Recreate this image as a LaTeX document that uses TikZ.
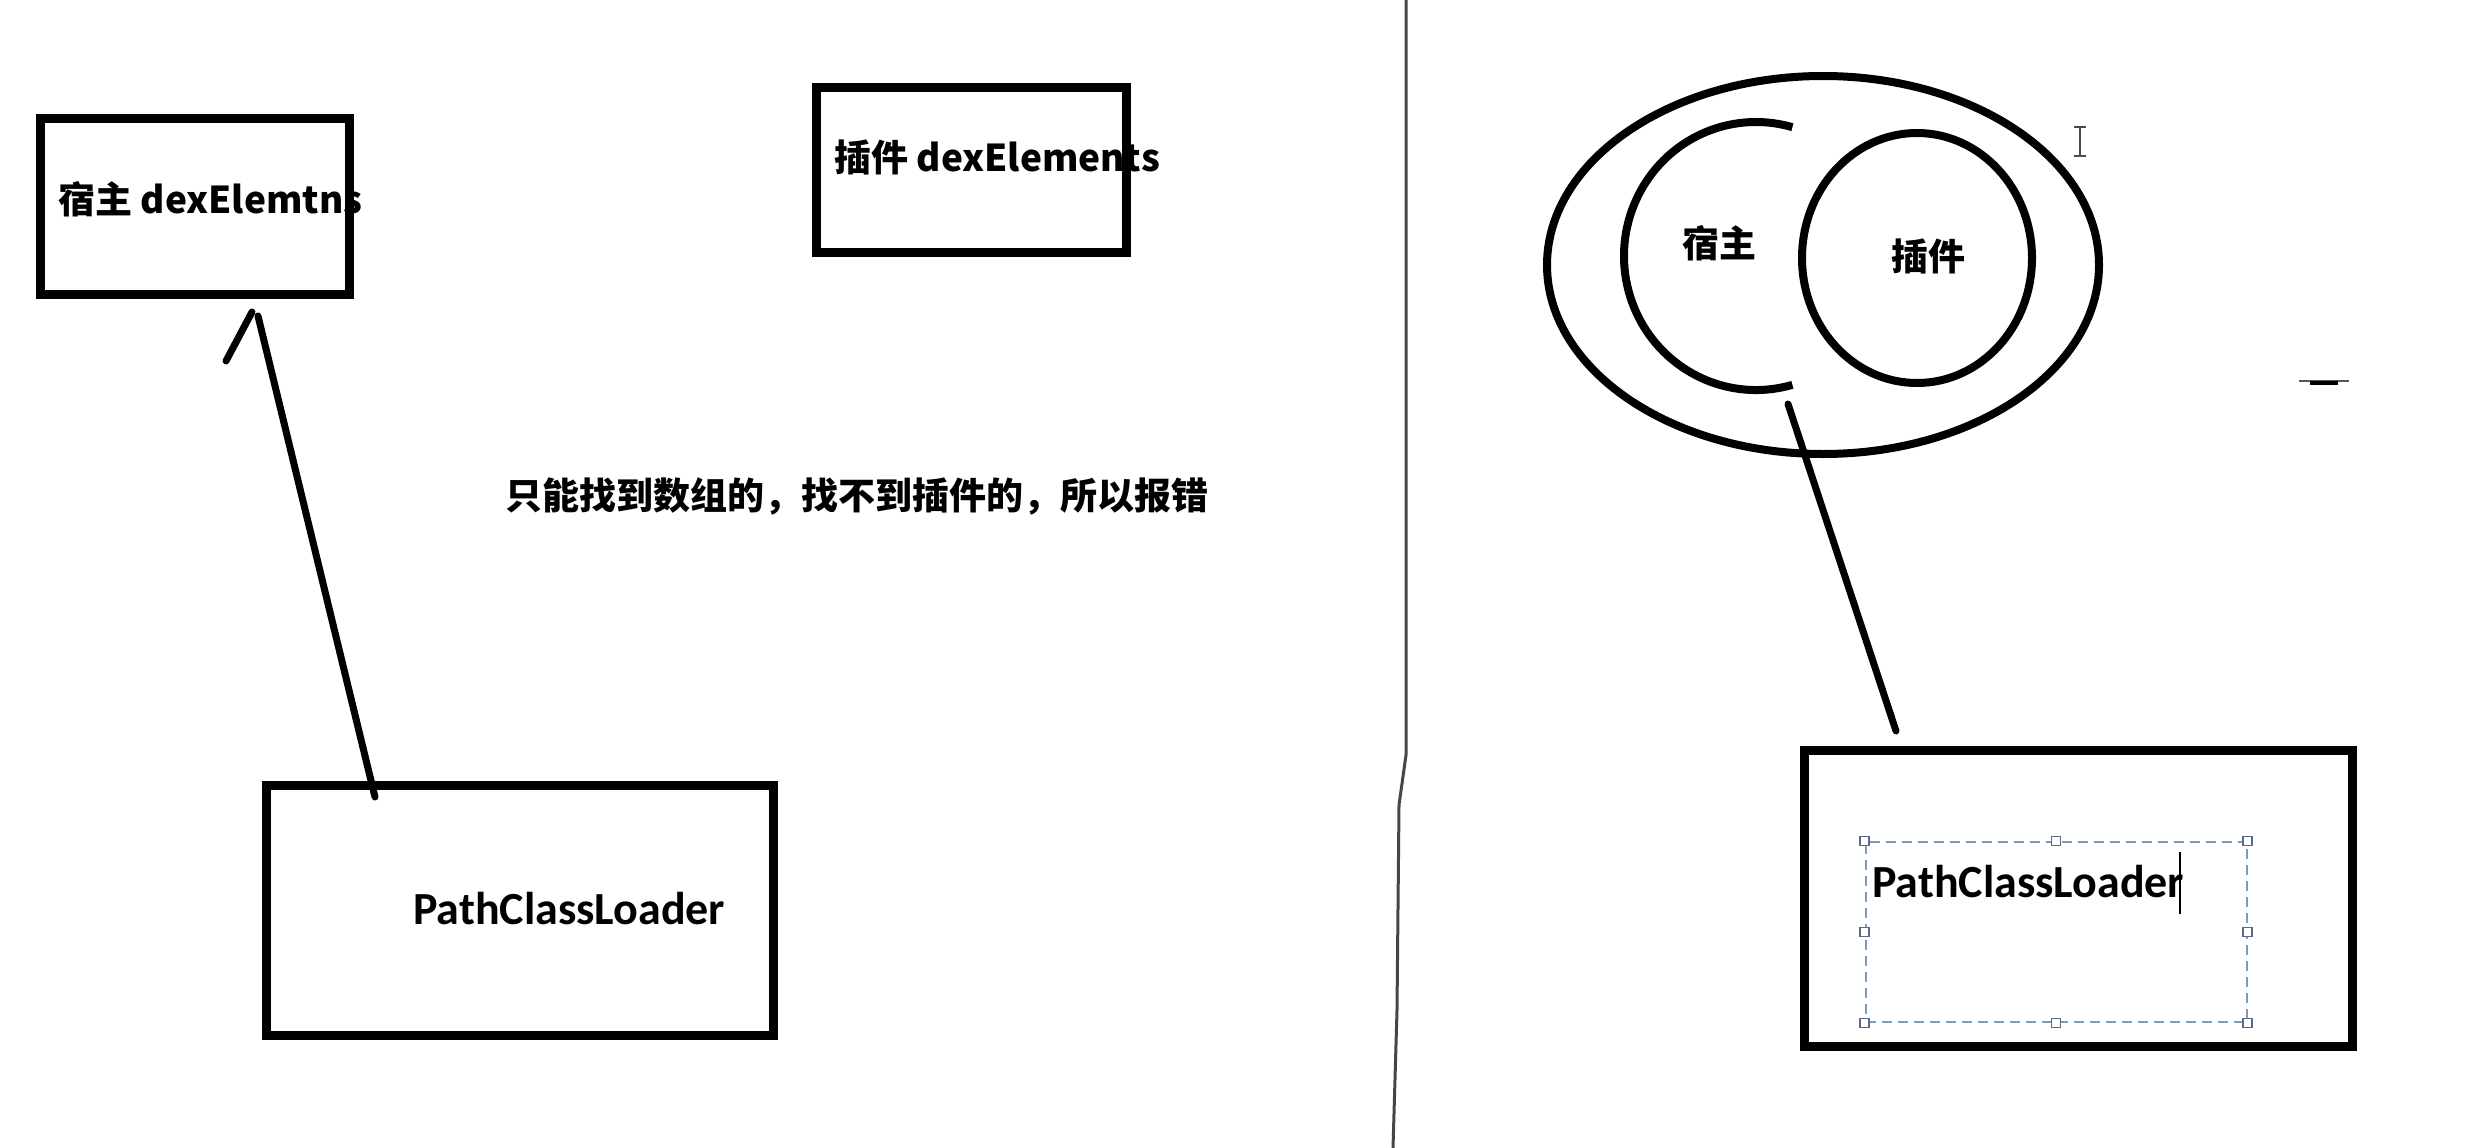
\documentclass[tikz,border=0pt]{standalone}
\usepackage{fontspec}
\setmainfont{Noto Sans CJK SC}
\newfontfamily\calfont{Carlito}
\usetikzlibrary{shapes.geometric}
\definecolor{selblue}{RGB}{125,155,190}
\definecolor{divgray}{RGB}{70,70,70}

\begin{document}
\begin{tikzpicture}[x=1pt,y=-1pt,
  box/.style={draw,line width=9pt,rectangle,inner sep=0pt,outer sep=0pt},
  ring/.style={draw,line width=8pt,ellipse,inner sep=0pt,outer sep=0pt},
  stroke/.style={line width=7pt,line cap=round},
  cjk/.style={font=\bfseries\fontsize{37}{44}\selectfont,inner sep=0pt},
  pcl/.style={font=\calfont\bfseries\fontsize{46}{52}\selectfont,inner sep=0pt},
  handle/.style={draw=selblue!70!black,fill=white,line width=1.5pt,minimum size=9pt,inner sep=0pt}]
\useasboundingbox[fill=white] (0,0) rectangle (2492,1148);

% left half
\node[box,minimum width=309pt,minimum height=176pt] (hostbox) at (195,206) {};
\node[box,minimum width=310pt,minimum height=165pt] (pluginbox) at (971,170) {};
\node[box,minimum width=507pt,minimum height=250pt] (loaderL) at (520,910) {};

\node[cjk,anchor=west] (hostlabel) at (58,199) {宿主 dexElemtns};
\node[cjk,anchor=west] (pluginlabel) at (834,157) {插件 dexElements};
\node[cjk,anchor=west] (note) at (505,496) {只能找到数组的，找不到插件的，所以报错};
\node[pcl,anchor=west] (loaderLlabel) at (413,909) {PathClassLoader};

\coordinate (footL) at (375,797);
\coordinate (tipL) at (258,316);
\coordinate (barbA) at (252,312);
\coordinate (barbB) at (226,361);
\draw[stroke] (footL) -- (tipL);
\draw[stroke] (barbA) -- (barbB);

% divider
\draw[divgray,line width=3pt] (1406,0) -- (1406,755) -- (1399,805) -- (1397,1010) -- (1393,1148);

% right half
\node[ring,minimum width=552pt,minimum height=378pt] (outer) at (1823,265) {};
\node[ring,minimum width=230pt,minimum height=250pt] (pluginring) at (1917,258) {};
\draw[line width=8pt] (1756,256) ++(74:132 and 134) arc[start angle=74,end angle=286,x radius=132,y radius=134];
\node[cjk] (hostname) at (1719,243) {宿主};
\node[cjk] (pluginname) at (1928,256) {插件};

\coordinate (linkTop) at (1788,404);
\coordinate (linkEnd) at (1896,731);
\draw[stroke] (linkTop) -- (linkEnd);

\node[box,minimum width=548pt,minimum height=296pt] (loaderR) at (2078,898) {};
\node[draw=selblue,line width=2pt,dash pattern=on 10pt off 6pt,minimum width=381pt,minimum height=180pt,inner sep=0pt] (sel) at (2056,932) {};
\foreach \a [count=\i] in {north west,north,north east,east,south east,south,south west,west}
  \node[handle] (hd\i) at (sel.\a) {};
\node[pcl,anchor=west] (loaderRlabel) at (1872,882) {PathClassLoader};
\draw[line width=2pt] (2180,852) -- (2180,914);

% cursor marks
\draw[gray!60!black,line width=2pt] (2080,127) -- (2080,156)
  (2074,127) -- (2086,127) (2074,156) -- (2086,156);
\draw[gray!70!black,line width=2pt] (2299,381) -- (2349,381);
\draw[line width=4pt] (2310,383) -- (2338,383);
\end{tikzpicture}
\end{document}
